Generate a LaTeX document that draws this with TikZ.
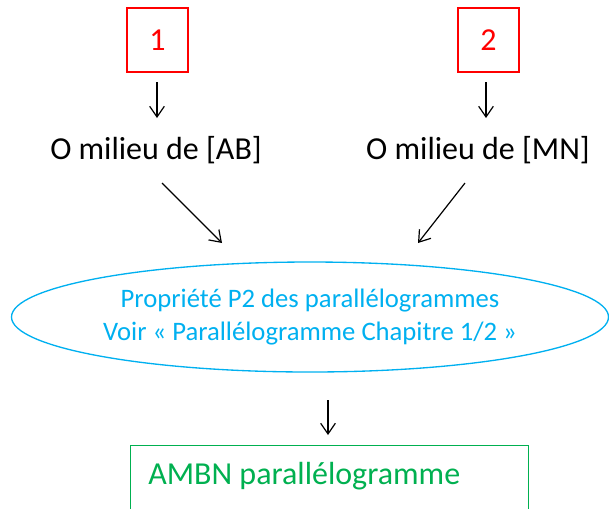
\documentclass[tikz,border=0pt]{standalone}
\usepackage{fontspec}
\setmainfont{Carlito}
\usetikzlibrary{arrows.meta,shapes.geometric}
\definecolor{rboxc}{RGB}{255,0,0}
\definecolor{blueel}{RGB}{0,176,240}
\definecolor{greenb}{RGB}{0,176,80}
\begin{document}
\begin{tikzpicture}[x=0.75pt,y=-0.75pt,
  numbox/.style={draw=rboxc,line width=1.1pt,minimum width=61*0.75pt,minimum height=64*0.75pt,inner sep=0pt,text=rboxc,font=\fontsize{24}{28}\selectfont},
  bigtext/.style={inner sep=0pt,font=\fontsize{24}{28}\selectfont},
  arr/.style={-{Straight Barb[length=8pt,width=11pt]},line width=0.9pt},
  ell/.style={draw=blueel,ellipse,line width=1pt,minimum width=597*0.75pt,minimum height=110*0.75pt,inner sep=0pt,text=blueel,align=center,font=\fontsize{20}{25}\selectfont},
  greenbox/.style={draw=greenb,line width=1.1pt,minimum width=398*0.75pt,minimum height=70*0.75pt,inner sep=0pt}
]
\useasboundingbox (0,0) rectangle (609,508);
\node[numbox] (b1) at (157.5,40) {1};
\node[numbox] (b2) at (488.5,40) {2};
\node[bigtext] (t1) at (156,150) {O milieu de [AB]};
\node[bigtext] (t2) at (478,150) {O milieu de [MN]};
\coordinate (a1s) at (157,82); \coordinate (a1e) at (157,118);
\coordinate (a2s) at (486,82); \coordinate (a2e) at (486,118);
\draw[arr] (a1s) -- (a1e);
\draw[arr] (a2s) -- (a2e);
\coordinate (d1s) at (162,183); \coordinate (d1e) at (222,243);
\coordinate (d2s) at (465,183); \coordinate (d2e) at (418,243);
\draw[arr] (d1s) -- (d1e);
\draw[arr] (d2s) -- (d2e);
\node[ell] (el) at (310,317) {Propriété P2 des parallélogrammes\\Voir « Parallélogramme Chapitre 1/2 »};
\coordinate (a3s) at (328,400); \coordinate (a3e) at (328,435);
\draw[arr] (a3s) -- (a3e);
\node[greenbox,anchor=north west] (gb) at (130,445) {};
\node[bigtext,text=greenb,anchor=west] (gt) at (148,476) {AMBN parallélogramme};
\end{tikzpicture}
\end{document}
